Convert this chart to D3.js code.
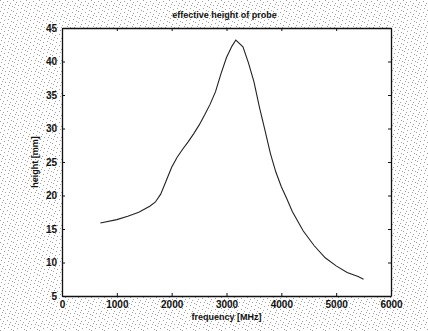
<!DOCTYPE html>
<html>
<head>
<meta charset="utf-8">
<script src="https://cdn.jsdelivr.net/npm/d3@7"></script>
<style>
  html, body { margin: 0; padding: 0; background: #fff; }
  svg { display: block; }
  text { font-family: "Liberation Sans Narrow", "Liberation Sans", Arial, sans-serif; fill: #111; }
</style>
</head>
<body>
<svg id="chart"></svg>
<script>
// effective height of probe vs frequency
const frequency = [700, 1000, 1200, 1400, 1600, 1700, 1800, 1900, 2000, 2100, 2200, 2300, 2400, 2500,
  2600, 2700, 2800, 2900, 3000, 3100, 3170, 3300, 3400, 3500, 3600, 3700, 3800, 3900, 4000,
  4100, 4200, 4400, 4600, 4800, 5000, 5200, 5400, 5500];
const height = [15.9, 16.4, 16.9, 17.5, 18.4, 19.0, 20.2, 22.2, 24.2, 25.7, 26.9, 28.0, 29.2, 30.5,
  32.0, 33.6, 35.5, 38.2, 40.6, 42.3, 43.2, 42.2, 39.8, 37.0, 33.2, 29.8, 26.3, 23.5, 21.3,
  19.5, 17.6, 14.7, 12.5, 10.7, 9.5, 8.5, 7.9, 7.5];
const xTicks = [0, 1000, 2000, 3000, 4000, 5000, 6000];
const yTicks = [5, 10, 15, 20, 25, 30, 35, 40, 45];

const W = 428, H = 331;
const margin = { top: 28, right: 37, bottom: 35, left: 62 };

const svg = d3.select("#chart").attr("width", W).attr("height", H);

// scanned paper look around the axes
const defs = svg.append("defs");
const pat = defs.append("pattern")
  .attr("id", "speckle")
  .attr("width", 13).attr("height", 11)
  .attr("patternUnits", "userSpaceOnUse");
pat.append("rect").attr("width", 13).attr("height", 11).attr("fill", "#fff");
[[0, 0], [7, 1], [3, 2], [10, 3], [5, 5], [12, 6], [1, 7], [8, 8], [4, 9], [11, 10], [2, 4], [9, 5]]
  .forEach(([px, py]) => {
    pat.append("rect").attr("x", px).attr("y", py).attr("width", 1).attr("height", 1).attr("fill", "#a0a0a0");
  });
svg.append("rect").attr("width", W).attr("height", H).attr("fill", "url(#speckle)");

const x = d3.scaleLinear().domain([0, 6000]).range([margin.left, W - margin.right]);
const y = d3.scaleLinear().domain([5, 45]).range([H - margin.bottom, margin.top]);

svg.append("rect")
  .attr("x", x(0)).attr("y", y(45))
  .attr("width", x(6000) - x(0)).attr("height", y(5) - y(45))
  .attr("fill", "#fff");

// MATLAB style: ticks point inward on all four sides
const styleAxis = g => {
  g.select(".domain").attr("stroke", "#111").attr("stroke-width", 1.3);
  g.selectAll(".tick line").attr("stroke", "#111").attr("stroke-width", 1);
};

svg.append("g")
  .attr("transform", `translate(0,${y(5)})`)
  .call(d3.axisBottom(x).tickValues(xTicks).tickFormat(d3.format("d"))
    .tickSizeInner(-3).tickSizeOuter(0).tickPadding(5))
  .call(styleAxis)
  .call(g => g.selectAll("text").attr("font-size", 10).attr("font-weight", "bold").attr("fill", "#111"));

svg.append("g")
  .attr("transform", `translate(${x(0)},0)`)
  .call(d3.axisLeft(y).tickValues(yTicks).tickSizeInner(-3).tickSizeOuter(0).tickPadding(5))
  .call(styleAxis)
  .call(g => g.selectAll("text").attr("font-size", 10).attr("font-weight", "bold").attr("fill", "#111"));

svg.append("g")
  .attr("transform", `translate(0,${y(45)})`)
  .call(d3.axisTop(x).tickValues(xTicks).tickSizeInner(-3).tickSizeOuter(0).tickFormat(""))
  .call(styleAxis);

svg.append("g")
  .attr("transform", `translate(${x(6000)},0)`)
  .call(d3.axisRight(y).tickValues(yTicks).tickSizeInner(-3).tickSizeOuter(0).tickFormat(""))
  .call(styleAxis);

const points = frequency.map((f, i) => [f, height[i]]);

svg.append("path")
  .datum(points)
  .attr("fill", "none")
  .attr("stroke", "#222")
  .attr("stroke-width", 1.1)
  .attr("d", d3.line().x(d => x(d[0])).y(d => y(d[1])));

svg.append("text")
  .attr("x", (x(0) + x(6000)) / 2 - 2).attr("y", 18)
  .attr("text-anchor", "middle")
  .attr("font-size", 9).attr("font-weight", "bold")
  .text("effective height of probe");

svg.append("text")
  .attr("x", (x(0) + x(6000)) / 2).attr("y", 320)
  .attr("text-anchor", "middle")
  .attr("font-size", 9).attr("font-weight", "bold")
  .text("frequency [MHz]");

svg.append("text")
  .attr("transform", `translate(38,${(y(5) + y(45)) / 2}) rotate(-90)`)
  .attr("text-anchor", "middle")
  .attr("font-size", 9).attr("font-weight", "bold")
  .text("height [mm]");
</script>
</body>
</html>
